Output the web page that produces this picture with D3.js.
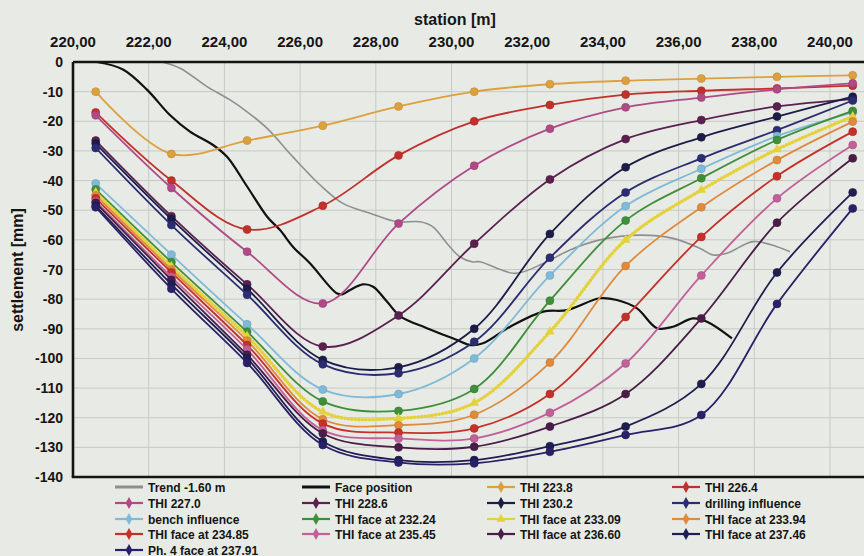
<!DOCTYPE html>
<html>
<head>
<meta charset="utf-8">
<script src="https://cdn.jsdelivr.net/npm/d3@7"></script>
<style>
  html, body { margin: 0; padding: 0; background: #e8ebe5; }
  svg { display: block; }
  text { font-family: "Liberation Sans", Arial, sans-serif; font-weight: bold; fill: #151515; }
</style>
</head>
<body>
<svg id="chart" width="864" height="556"></svg>
<script>
// Measurement stations of the settlement targets [m]
const stations = [220.6, 222.6, 224.6, 226.6, 228.6, 230.6, 232.6, 234.6, 236.6, 238.6, 240.6];

// Axis ticks
const xTicks = [220, 222, 224, 226, 228, 230, 232, 234, 236, 238, 240];
const yTicks = [0, -10, -20, -30, -40, -50, -60, -70, -80, -90, -100, -110, -120, -130, -140];

// Settlement lines [mm] at each station
const thi2238   = [-10, -31, -26.5, -21.5, -15, -10, -7.5, -6.3, -5.6, -5, -4.5];
const thi2264   = [-17, -40, -56.5, -48.5, -31.5, -20, -14.5, -11, -9.7, -8.9, -8];
const thi2270   = [-18, -42.5, -64, -81.5, -54.5, -35, -22.5, -15.3, -12, -9.2, -7.2];
const thi2286   = [-26.5, -52, -75, -96, -85.5, -61.3, -39.6, -26, -19.6, -15, -12.5];
const thi2302   = [-27.5, -53, -76.5, -100.5, -103, -90, -58, -35.5, -25.4, -18.4, -11.7];
const drilling  = [-29, -55, -78.5, -102, -105, -94.4, -66, -44, -32.5, -23, -13];
const bench     = [-41, -65, -88.5, -110.5, -112, -100, -72, -48.6, -36, -25, -17];
const face23224 = [-43, -67.5, -91, -114.5, -117.7, -110.3, -80.5, -53.5, -39.2, -26.3, -16.5];
const face23309 = [-44, -69, -92.5, -118, -120.2, -115, -91, -60, -43.2, -29.5, -18.4];
const face23394 = [-45, -70, -94, -120.5, -122.5, -119, -101.4, -68.8, -49, -33.1, -20.1];
const face23485 = [-46, -71, -95.5, -122, -125, -123.6, -112, -86, -59, -38.5, -23.5];
const face23545 = [-47, -72.5, -97, -124.2, -127, -127, -118.3, -101.7, -72, -46, -28];
const face23660 = [-47.5, -73.5, -98.8, -125.3, -130, -129.8, -123, -112, -86.5, -54.2, -32.5];
const face23746 = [-48.5, -75, -100, -128, -134.3, -134.3, -129.6, -123, -108.6, -71, -44];
const ph4_23791 = [-49, -76.5, -101.5, -129.2, -135.1, -135.4, -131.5, -125.8, -119.1, -81.6, -49.4];

// Trend line at -1.60 m
const trendStation = [222.35, 222.83, 223.54, 224.15, 224.6, 225.13, 225.81, 226.53, 227.13, 227.85, 228.56, 229.17, 229.51, 229.88, 230.22, 230.54, 230.75, 231.68, 232.42, 233.13, 233.92, 234.98, 235.85, 236.57, 236.91, 237.28, 237.97, 238.6, 238.94];
const trendSettle  = [0, -2.1, -8.3, -12.8, -16.8, -22.4, -32, -41.5, -47.7, -51, -53.9, -53.9, -55.6, -61.2, -65.7, -67.4, -67.4, -71.3, -68, -63.4, -60, -58.4, -59.5, -62.9, -65.1, -64.5, -60.6, -62.3, -64];

// Face position curve
const faceStation = [220.63, 221.32, 221.96, 222.56, 223.09, 223.7, 224.07, 224.6, 225.13, 225.47, 225.81, 226.26, 226.97, 227.13, 227.32, 227.66, 227.93, 228.3, 228.64, 229.35, 230.15, 230.49, 230.83, 231.55, 232.42, 233.05, 233.92, 234.37, 234.9, 235.43, 235.85, 236.38, 236.75, 237.41];
const faceSettle  = [0, -2.5, -9.4, -17.9, -23.5, -28, -32, -42, -52.2, -56.7, -62.3, -67.9, -78, -78.3, -76.9, -75, -75.8, -80.9, -85.7, -89.8, -93.8, -95.5, -94.9, -89.3, -84.2, -83.7, -79.7, -80.3, -83.1, -89.8, -89.3, -86.5, -87.6, -93.2];

const seriesNames = [
  "Trend -1.60 m", "Face position", "THI 223.8", "THI 226.4",
  "THI 227.0", "THI 228.6", "THI 230.2", "drilling influence",
  "bench influence", "THI face at 232.24", "THI face at 233.09", "THI face at 233.94",
  "THI face at 234.85", "THI face at 235.45", "THI face at 236.60", "THI face at 237.46",
  "Ph. 4 face at 237.91"
];
const seriesColors = [
  "#8f8f8f", "#111111", "#dca03e", "#c2302c",
  "#b04a86", "#5a2050", "#1c1c48", "#2c2c72",
  "#7fbad8", "#3f8f3a", "#e4d23c", "#e08a3c",
  "#c4302a", "#c2609a", "#4a1c48", "#1e1e50",
  "#2a2068"
];
const seriesValues = [
  null, null, thi2238, thi2264,
  thi2270, thi2286, thi2302, drilling,
  bench, face23224, face23309, face23394,
  face23485, face23545, face23660, face23746,
  ph4_23791
];

const svg = d3.select("#chart");
const plotLeft = 73, plotRight = 866, plotTop = 62, plotBottom = 477;

const x = d3.scaleLinear().domain([220, 240]).range([plotLeft, 830]);
const y = d3.scaleLinear().domain([-140, 0]).range([plotBottom, plotTop]);

// grid
const grid = svg.append("g").attr("stroke", "#c6cac4").attr("stroke-width", 1);
grid.selectAll("line.h").data(yTicks).join("line").attr("class", "h")
  .attr("x1", plotLeft).attr("x2", plotRight)
  .attr("y1", d => y(d)).attr("y2", d => y(d));
grid.selectAll("line.v").data(xTicks).join("line").attr("class", "v")
  .attr("y1", plotTop).attr("y2", plotBottom)
  .attr("x1", d => x(d)).attr("x2", d => x(d));

// tick labels and titles
const fmt = d => d3.format(".2f")(d).replace(".", ",");
svg.append("g").selectAll("text").data(xTicks).join("text")
  .attr("x", d => x(d)).attr("y", 47)
  .attr("text-anchor", "middle").attr("font-size", 15)
  .text(fmt);
svg.append("text").attr("x", 455).attr("y", 25)
  .attr("text-anchor", "middle").attr("font-size", 16).text("station [m]");
svg.append("g").selectAll("text").data(yTicks).join("text")
  .attr("x", 63).attr("y", d => y(d) + 5)
  .attr("text-anchor", "end").attr("font-size", 14)
  .text(d => d === 0 ? "0" : "-" + Math.abs(d));
svg.append("text").attr("transform", "translate(23,270) rotate(-90)")
  .attr("text-anchor", "middle").attr("font-size", 16).text("settlement [mm]");

const line = d3.line().x(d => x(d[0])).y(d => y(d[1])).curve(d3.curveCatmullRom.alpha(0.5));
const plot = svg.append("g");

// trend and face position
plot.append("path").attr("d", line(d3.zip(trendStation, trendSettle)))
  .attr("fill", "none").attr("stroke", seriesColors[0]).attr("stroke-width", 1.6);
plot.append("path").attr("d", line(d3.zip(faceStation, faceSettle)))
  .attr("fill", "none").attr("stroke", seriesColors[1]).attr("stroke-width", 2.2);

// measured settlement lines with markers
seriesValues.forEach((vals, i) => {
  if (!vals) return;
  const pts = d3.zip(stations, vals);
  const g = plot.append("g");
  const col = seriesColors[i];
  if (seriesNames[i] === "THI face at 233.09") {
    g.append("path").attr("d", line(pts)).attr("fill", "none")
      .attr("stroke", col).attr("stroke-width", 1.4);
    g.append("path").attr("d", line(pts)).attr("fill", "none")
      .attr("stroke", col).attr("stroke-width", 3.6)
      .attr("stroke-linecap", "round").attr("stroke-dasharray", "0.1,3.4");
    g.selectAll("path.m").data(pts).join("path").attr("class", "m")
      .attr("transform", d => `translate(${x(d[0])},${y(d[1])})`)
      .attr("d", d3.symbol(d3.symbolTriangle, 40)).attr("fill", col);
  } else {
    g.append("path").attr("d", line(pts)).attr("fill", "none")
      .attr("stroke", col).attr("stroke-width", 1.8);
    g.selectAll("circle").data(pts).join("circle")
      .attr("cx", d => x(d[0])).attr("cy", d => y(d[1])).attr("r", 4)
      .attr("fill", col).attr("stroke", d3.color(col).darker(0.4)).attr("stroke-width", 0.6);
  }
});

// frame
const frame = svg.append("g").attr("stroke", "#141414").attr("stroke-width", 2.6).attr("fill", "none");
frame.append("line").attr("x1", plotLeft).attr("x2", plotRight).attr("y1", plotTop).attr("y2", plotTop);
frame.append("line").attr("x1", plotLeft).attr("x2", plotLeft).attr("y1", plotTop).attr("y2", plotBottom);
frame.append("line").attr("x1", plotLeft - 1.3).attr("x2", plotRight).attr("y1", plotBottom).attr("y2", plotBottom);

// legend
const colX = [115, 302, 487, 672];
const rowY = [487, 503, 519, 534, 550];
const leg = svg.append("g").selectAll("g").data(seriesNames).join("g")
  .attr("transform", (d, i) => `translate(${colX[i % 4]},${rowY[Math.floor(i / 4)]})`);
leg.append("line").attr("x1", 0).attr("x2", 28).attr("y1", 0).attr("y2", 0)
  .attr("stroke", (d, i) => seriesColors[i]).attr("stroke-width", (d, i) => i < 2 ? 3 : 2.2);
leg.filter((d, i) => i >= 2).append("path")
  .attr("transform", "translate(14,0)")
  .attr("d", d => d === "THI face at 233.09" ? d3.symbol(d3.symbolTriangle, 36)() : d3.symbol(d3.symbolDiamond, 40)())
  .attr("fill", d => seriesColors[seriesNames.indexOf(d)]);
leg.append("text").attr("x", 33).attr("y", 4.5).attr("font-size", 12).text(d => d);
</script>
</body>
</html>
